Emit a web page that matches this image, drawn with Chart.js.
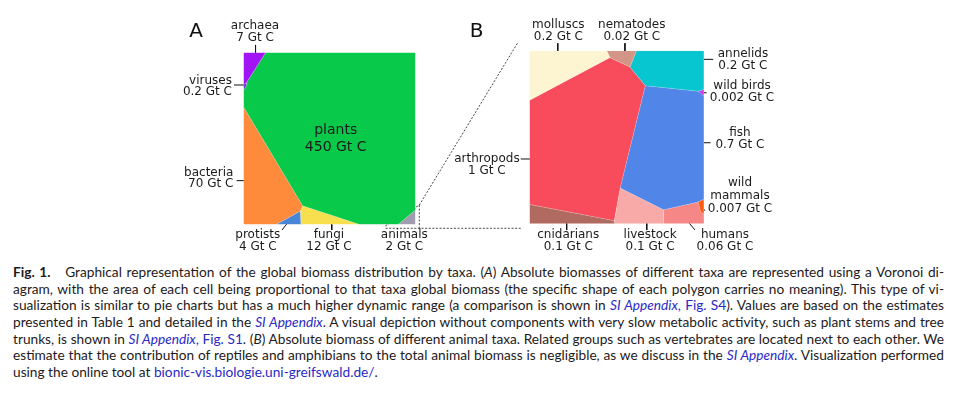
<!DOCTYPE html>
<html>
<head>
<meta charset="utf-8">
<script src="https://cdn.jsdelivr.net/npm/chart.js@4.4.0/dist/chart.umd.min.js"></script>
<style>
  html, body { margin: 0; padding: 0; background: #fff; }
  body { width: 958px; height: 394px; position: relative; overflow: hidden; }
  canvas { position: absolute; left: 0; top: 0; }
  #caption {
    position: absolute; left: 13px; top: 264px; width: 931px;
    font-family: Lato, sans-serif; font-size: 13.7px; line-height: 16.65px; color: #1e1a1b;
  }
  #caption div { text-align: justify; text-align-last: justify; }
  #caption div.last { text-align-last: left; }
  #caption .lnk { color: #2a2ac4; }
</style>
</head>
<body>
<canvas id="panelA" width="958" height="255"></canvas>
<canvas id="panelB" width="958" height="255"></canvas>
<div id="caption">
  <div><b style="margin-right:10px">Fig. 1.</b> Graphical representation of the global biomass distribution by taxa. (<i>A</i>) Absolute biomasses of different taxa are represented using a Voronoi di-</div>
  <div>agram, with the area of each cell being proportional to that taxa global biomass (the specific shape of each polygon carries no meaning). This type of vi-</div>
  <div>sualization is similar to pie charts but has a much higher dynamic range (a comparison is shown in <span class="lnk"><i>SI Appendix</i>, Fig. S4</span>). Values are based on the estimates</div>
  <div>presented in Table 1 and detailed in the <span class="lnk"><i>SI Appendix</i></span>. A visual depiction without components with very slow metabolic activity, such as plant stems and tree</div>
  <div>trunks, is shown in <span class="lnk"><i>SI Appendix</i>, Fig. S1</span>. (<i>B</i>) Absolute biomass of different animal taxa. Related groups such as vertebrates are located next to each other. We</div>
  <div>estimate that the contribution of reptiles and amphibians to the total animal biomass is negligible, as we discuss in the <span class="lnk"><i>SI Appendix</i></span>. Visualization performed</div>
  <div class="last">using the online tool at <span class="lnk">bionic-vis.biologie.uni-greifswald.de/</span>.</div>
</div>
<script>
// ---- data: panel A, all taxa (Gt C) ----------------------------------------------
const taxaA = ['archaea', 'viruses', 'plants', 'bacteria', 'protists', 'fungi', 'animals'];
const biomassA = [7, 0.2, 450, 70, 4, 12, 2];
// Voronoi cells, in square units (0..100, y downwards)
const cellsA = [
    [[0, 0], [12.9, 0], [1.6, 17.7], [0, 18.6]],
    [[0, 18.6], [1.6, 17.7], [1.9, 19.2], [0, 21.8]],
    [[12.9, 0], [100, 0], [100, 91.6], [89.8, 100], [67.7, 100], [34.4, 89.1], [0, 31.5], [0, 21.8], [1.9, 19.2], [1.6, 17.7]],
    [[0, 31.5], [34.4, 89.1], [33.0, 92.2], [18.9, 100], [0, 100]],
    [[18.9, 100], [33.0, 92.2], [33.4, 100]],
    [[34.4, 89.1], [67.7, 100], [33.4, 100], [33.0, 92.2]],
    [[89.8, 100], [100, 91.6], [100, 100]]
];

// ---- data: panel B, animal taxa (Gt C) -------------------------------------------
const taxaB = ['molluscs', 'nematodes', 'annelids', 'wild birds', 'fish', 'wild mammals', 'humans', 'livestock', 'cnidarians', 'arthropods'];
const biomassB = [0.2, 0.02, 0.2, 0.002, 0.7, 0.007, 0.06, 0.1, 0.1, 1];
const cellsB = [
    [[0, 0], [44.2, 0], [46.1, 4.0], [0, 28.7]],
    [[44.2, 0], [61.3, 0], [57.6, 9.4], [46.1, 4.0]],
    [[61.3, 0], [100, 0], [100, 22.4], [96.8, 23.4], [66.4, 20.2], [57.6, 9.4]],
    [[96.8, 23.4], [100, 22.4], [100, 26.2]],
    [[66.4, 20.2], [96.8, 23.4], [100, 26.2], [100, 85.7], [96.6, 87.5], [76.9, 91.9], [52.0, 79.4]],
    [[96.6, 87.5], [100, 85.7], [100, 94.4], [98.3, 93.5]],
    [[76.9, 91.9], [96.6, 87.5], [98.3, 93.5], [100, 94.4], [100, 100], [76.9, 100]],
    [[52.0, 79.4], [76.9, 91.9], [76.9, 100], [48.9, 100], [48.6, 98.3]],
    [[0, 88.9], [48.6, 98.3], [48.9, 100], [0, 100]],
    [[0, 28.7], [46.1, 4.0], [57.6, 9.4], [66.4, 20.2], [52.0, 79.4], [48.6, 98.3], [0, 88.9]]
];

// ---- styles -----------------------------------------------------------------------
const colorsA = ['#a114f5', '#6a3fd0', '#08c94a', '#fe8a3c', '#4a86d8', '#f8df4d', '#a29cb0'];
const colorsB = ['#fdf4d2', '#d39585', '#08c6cf', '#d535e8', '#5285e8', '#ff5a10', '#f58787', '#f8aaa9', '#b16a60', '#f84c5c'];

// label anchors (square units): centre of first line, alignment, leader tick
const layoutA = [
    {x: 6.7, y: -15.4, tick: [7.0, -4.4, 7.0, 0.3]},
    {x: -6.7, y: 16.4, align: 'right', tick: [-5.5, 18.9, 1.2, 18.9]},
    {x: 53.6, y: 45.5, size: 14, gap: 16.6},
    {x: -5.9, y: 69.7, align: 'right', tick: [-4.0, 74.5, 2.2, 74.5]},
    {x: 8.3, y: 106.3, tick: [22.4, 103.2, 26.5, 98.0]},
    {x: 49.7, y: 106.3, tick: [51.3, 97.8, 51.3, 103.2]},
    {x: 93.5, y: 106.3}
];
const layoutB = [
    {x: 16.5, y: -14.9, tick: [16.2, -4.3, 16.2, 2.1]},
    {x: 58.6, y: -14.9, tick: [54.7, -4.3, 54.7, 2.5]},
    {x: 122.3, y: 2.1, tick: [98.1, 5.0, 105.3, 5.0]},
    {x: 121.8, y: 20.4, tick: [97.7, 24.3, 101.5, 24.3]},
    {x: 120.6, y: 47.7, tick: [94.8, 53.2, 103.8, 53.2]},
    {x: 120.6, y: 76.5, gap: 13, split: true, tick: [97.3, 92.1, 100.6, 92.1]},
    {x: 112.0, y: 106.6, tick: [90.4, 98.3, 94.8, 103.6]},
    {x: 69.1, y: 106.6, tick: [67.2, 97.9, 67.2, 103.6]},
    {x: 22.2, y: 106.6, tick: [21.3, 97.9, 21.3, 103.6]},
    {x: -24.4, y: 62.6, tick: [-5.0, 62.6, 4.5, 62.6]}
];
// dashed zoom lines from the animals cell of A towards B (A square units)
// (written right-to-left so chart.js does not trim them as sorted data)
const zoomLinesA = [
    [[159.2, -5.3], [102.2, 88.7], [81.7, 101.3]],
    [[102.2, 88.7], [102.2, 102.2]],
    [[161.2, 102.2], [81.7, 102.2]]
];

function cellDatasets(cells, colors, names) {
    return cells.map((poly, i) => ({
        label: names[i],
        data: poly.concat([poly[0]]).map(([x, y]) => ({x, y})),
        showLine: true,
        fill: 'shape',
        backgroundColor: colors[i],
        borderColor: 'rgba(255,255,255,0.25)',
        borderWidth: 0.6,
        pointRadius: 0,
        tension: 0
    }));
}

function lineDataset(points, dashed) {
    return {
        data: points.map(([x, y]) => ({x, y})),
        showLine: true,
        fill: false,
        borderColor: dashed ? '#333' : '#111',
        borderWidth: dashed ? 0.9 : 1,
        borderDash: dashed ? [2, 1.6] : [],
        pointRadius: 0,
        clip: false
    };
}

function labelPlugin(names, values, layout, letter) {
    return {
        id: 'cellLabels',
        afterDatasetsDraw(chart) {
            const {ctx} = chart;
            const sx = chart.scales.x, sy = chart.scales.y;
            ctx.save();
            ctx.fillStyle = '#1b1b1b';
            ctx.textBaseline = 'middle';
            layout.forEach((it, i) => {
                const lines = it.split ? names[i].split(' ') : [names[i]];
                lines.push(values[i] + ' Gt C');
                ctx.font = (it.size || 12) + 'px "DejaVu Sans"';
                ctx.textAlign = it.align || 'center';
                const px = sx.getPixelForValue(it.x), py = sy.getPixelForValue(it.y);
                lines.forEach((t, k) => ctx.fillText(t, px, py + k * (it.gap || 11.6)));
            });
            ctx.font = '20px "DejaVu Sans"';
            ctx.textAlign = 'center';
            ctx.fillStyle = '#111';
            ctx.fillText(letter.text, sx.getPixelForValue(letter.x), sy.getPixelForValue(letter.y));
            ctx.restore();
        }
    };
}

function makePanel(canvasId, names, values, cells, colors, layout, extraLines, pad, letter) {
    const ticks = layout.filter(it => it.tick).map(it =>
        lineDataset([[it.tick[0], it.tick[1]], [it.tick[2], it.tick[3]]], false));
    const dashed = extraLines.map(l => lineDataset(l, true));
    return new Chart(document.getElementById(canvasId), {
        type: 'scatter',
        data: {datasets: cellDatasets(cells, colors, names).concat(ticks, dashed)},
        options: {
            responsive: false,
            animation: false,
            devicePixelRatio: 1,
            layout: {padding: pad},
            scales: {
                x: {type: 'linear', min: 0, max: 100, display: false},
                y: {type: 'linear', min: 0, max: 100, reverse: true, display: false}
            },
            plugins: {legend: {display: false}, tooltip: {enabled: false}}
        },
        plugins: [labelPlugin(names, values, layout, letter)]
    });
}

makePanel('panelA', taxaA, biomassA, cellsA, colorsA, layoutA, zoomLinesA,
    {left: 243.5, right: 542.5, top: 52.5, bottom: 30.5}, {text: 'A', x: -27.6, y: -12.1});
makePanel('panelB', taxaB, biomassB, cellsB, colorsB, layoutB, [],
    {left: 529.5, right: 254, top: 50.7, bottom: 31.3}, {text: 'B', x: -30.3, y: -11.0});
</script>
</body>
</html>
